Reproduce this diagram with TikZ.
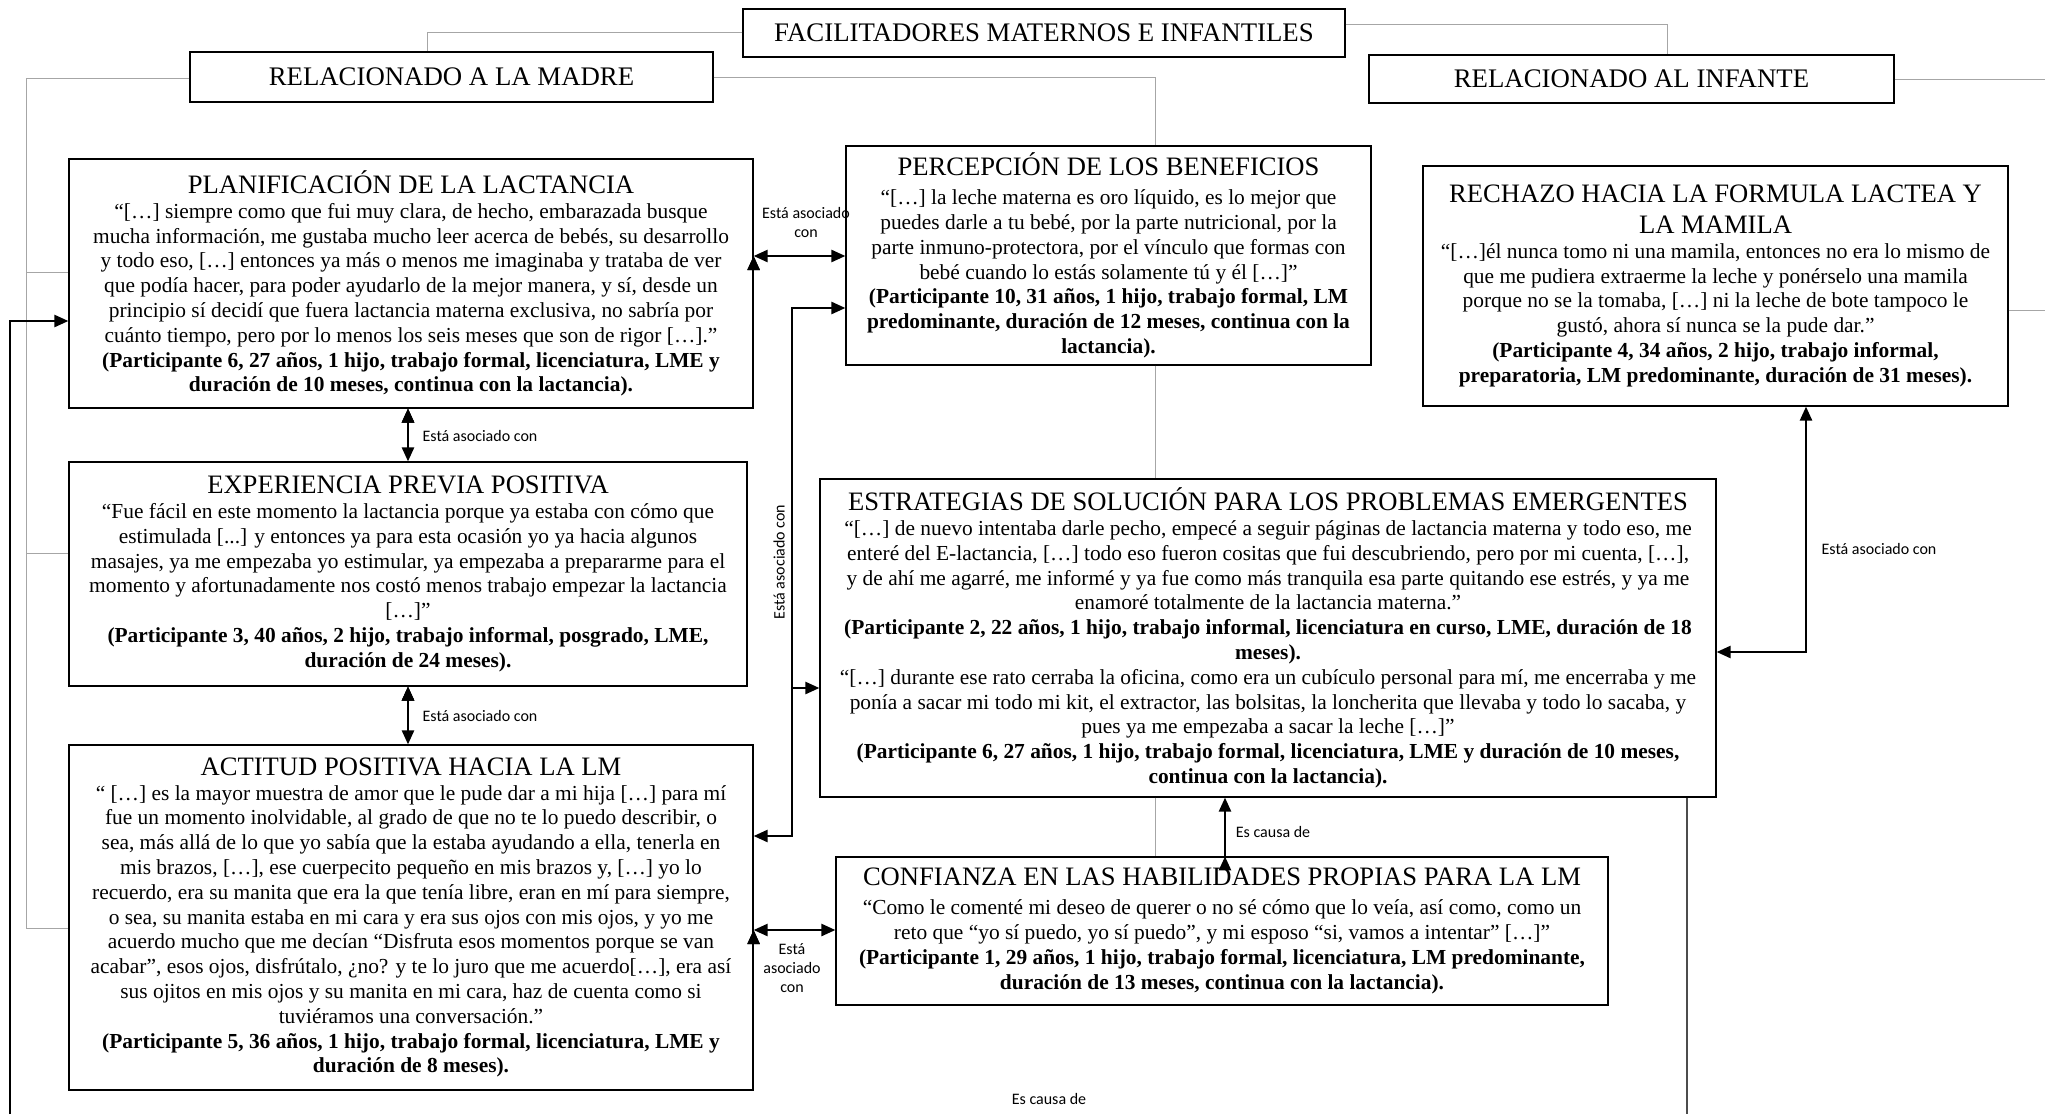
\documentclass[tikz,border=0pt]{standalone}
\usepackage{fontspec}
\setmainfont{Liberation Serif}
\newfontfamily\labelfont{Carlito}
\usetikzlibrary{arrows.meta}

\newcommand{\boxtitle}[1]{{\fontsize{13.3}{15.5}\selectfont #1}}
\newcommand{\who}[1]{\textbf{#1}}

\begin{document}
\begin{tikzpicture}[x=0.5pt,y=-0.5pt,
		box/.style={shape=rectangle, draw=black, fill=white, line width=0.6pt, align=center, inner sep=2pt, font=\fontsize{10.7}{12.4}\selectfont},
		head/.style={shape=rectangle, draw=black, fill=white, line width=0.6pt, align=center, font=\fontsize{13.4}{15}\selectfont},
		hier/.style={draw=black!35, line width=0.5pt},
		assoc/.style={draw=black, line width=1.2pt, {Triangle[length=7pt,width=6pt]}-{Triangle[length=7pt,width=6pt]}},
		arr/.style={draw=black, line width=1.2pt, -{Triangle[length=7pt,width=6pt]}},
		lbl/.style={font=\labelfont\fontsize{8}{9.5}\selectfont, align=center, inner sep=0pt}]
		\useasboundingbox (0,0) rectangle (2045,1114);
		
		\node[head, minimum width=301pt, minimum height=24pt] (top) at (1044,33) {FACILITADORES MATERNOS E INFANTILES};
		\node[head, minimum width=261.5pt, minimum height=25pt] (madre) at (451.5,77) {RELACIONADO A LA MADRE};
		\node[head, minimum width=262.5pt, minimum height=24pt] (infante) at (1631.5,79) {RELACIONADO AL INFANTE};
		
		\node[box, minimum width=342pt, minimum height=124.5pt] (plan) at (411,283.5) {\boxtitle{PLANIFICACIÓN DE LA LACTANCIA}\\
			“[…] siempre como que fui muy clara, de hecho, embarazada busque\\
			mucha información, me gustaba mucho leer acerca de bebés, su desarrollo\\
			y todo eso, […] entonces ya más o menos me imaginaba y trataba de ver\\
			que podía hacer, para poder ayudarlo de la mejor manera, y sí, desde un\\
			principio sí decidí que fuera lactancia materna exclusiva, no sabría por\\
			cuánto tiempo, pero por lo menos los seis meses que son de rigor […].”\\
			\who{(Participante 6, 27 años, 1 hijo, trabajo formal, licenciatura, LME y}\\
			\who{duración de 10 meses, continua con la lactancia).}};
		\node[box, minimum width=262.5pt, minimum height=109.5pt] (perc) at (1108.5,255.5) {\boxtitle{PERCEPCIÓN DE LOS BENEFICIOS}\\[2pt]
			“[…] la leche materna es oro líquido, es lo mejor que\\
			puedes darle a tu bebé, por la parte nutricional, por la\\
			parte inmuno-protectora, por el vínculo que formas con\\
			bebé cuando lo estás solamente tú y él […]”\\
			\who{(Participante 10, 31 años, 1 hijo, trabajo formal, LM}\\
			\who{predominante, duración de 12 meses, continua con la}\\
			\who{lactancia).}};
		\node[box, minimum width=292.5pt, minimum height=120pt] (rech) at (1715.5,286) {\boxtitle{RECHAZO HACIA LA FORMULA LACTEA Y}\\[3pt]
			\boxtitle{LA MAMILA}\\
			“[…]él nunca tomo ni una mamila, entonces no era lo mismo de\\
			que me pudiera extraerme la leche y ponérselo una mamila\\
			porque no se la tomaba, […] ni la leche de bote tampoco le\\
			gustó, ahora sí nunca se la pude dar.”\\
			\who{(Participante 4, 34 años, 2 hijo, trabajo informal,}\\
			\who{preparatoria, LM predominante, duración de 31 meses).}};
		\node[box, minimum width=339pt, minimum height=112pt] (exp) at (408,574) {\boxtitle{EXPERIENCIA PREVIA POSITIVA}\\
			“Fue fácil en este momento la lactancia porque ya estaba con cómo que\\
			estimulada [...] y entonces ya para esta ocasión yo ya hacia algunos\\
			masajes, ya me empezaba yo estimular, ya empezaba a prepararme para el\\
			momento y afortunadamente nos costó menos trabajo empezar la lactancia\\
			{[}…]”\\
			\who{(Participante 3, 40 años, 2 hijo, trabajo informal, posgrado, LME,}\\
			\who{duración de 24 meses).}};
		\node[box, minimum width=448pt, minimum height=159pt] (estr) at (1268,638) {\boxtitle{ESTRATEGIAS DE SOLUCIÓN PARA LOS PROBLEMAS EMERGENTES}\\
			“[…] de nuevo intentaba darle pecho, empecé a seguir páginas de lactancia materna y todo eso, me\\
			enteré del E-lactancia, […] todo eso fueron cositas que fui descubriendo, pero por mi cuenta, […],\\
			y de ahí me agarré, me informé y ya fue como más tranquila esa parte quitando ese estrés, y ya me\\
			enamoré totalmente de la lactancia materna.”\\
			\who{(Participante 2, 22 años, 1 hijo, trabajo informal, licenciatura en curso, LME, duración de 18}\\
			\who{meses).}\\
			“[…] durante ese rato cerraba la oficina, como era un cubículo personal para mí, me encerraba y me\\
			ponía a sacar mi todo mi kit, el extractor, las bolsitas, la loncherita que llevaba y todo lo sacaba, y\\
			pues ya me empezaba a sacar la leche […]”\\
			\who{(Participante 6, 27 años, 1 hijo, trabajo formal, licenciatura, LME y duración de 10 meses,}\\
			\who{continua con la lactancia).}};
		\node[box, minimum width=342pt, minimum height=172.5pt] (act) at (411,917.5) {\boxtitle{ACTITUD POSITIVA HACIA LA LM}\\
			“ […] es la mayor muestra de amor que le pude dar a mi hija […] para mí\\
			fue un momento inolvidable, al grado de que no te lo puedo describir, o\\
			sea, más allá de lo que yo sabía que la estaba ayudando a ella, tenerla en\\
			mis brazos, […], ese cuerpecito pequeño en mis brazos y, […] yo lo\\
			recuerdo, era su manita que era la que tenía libre, eran en mí para siempre,\\
			o sea, su manita estaba en mi cara y era sus ojos con mis ojos, y yo me\\
			acuerdo mucho que me decían “Disfruta esos momentos porque se van\\
			acabar”, esos ojos, disfrútalo, ¿no? y te lo juro que me acuerdo[…], era así\\
			sus ojitos en mis ojos y su manita en mi cara, haz de cuenta como si\\
			tuviéramos una conversación.”\\
			\who{(Participante 5, 36 años, 1 hijo, trabajo formal, licenciatura, LME y}\\
			\who{duración de 8 meses).}};
		\node[box, minimum width=386pt, minimum height=74pt] (conf) at (1222,931) {\boxtitle{CONFIANZA EN LAS HABILIDADES PROPIAS PARA LA LM}\\[2pt]
			“Como le comenté mi deseo de querer o no sé cómo que lo veía, así como, como un\\
			reto que “yo sí puedo, yo sí puedo”, y mi esposo “si, vamos a intentar” […]”\\
			\who{(Participante 1, 29 años, 1 hijo, trabajo formal, licenciatura, LM predominante,}\\
			\who{duración de 13 meses, continua con la lactancia).}};
		
		\coordinate (ml) at (26,78);
		\coordinate (mr) at (1155,77);
		\coordinate (rimA) at (2045,79);
		\coordinate (rimB) at (2045,310);
		\coordinate (brT) at (792,308);
		\coordinate (brM) at (792,688);
		\coordinate (brB) at (792,836);
		\coordinate (lowL) at (10,1114);
		\coordinate (lowR) at (1687,1114);
		
		\draw[hier] (top.west |- 0,32) -| (madre.north -| 427,0);
		\draw[hier] (top.east |- 0,24) -| (infante.north -| 1667,0);
		\draw[hier] (madre.west |- ml) -- (ml) |- (act.west |- 0,928);
		\draw[hier] (ml |- 0,272) -- (plan.west |- 0,272);
		\draw[hier] (ml |- 0,553) -- (exp.west |- 0,553);
		\draw[hier] (madre.east |- mr) -- (mr) -- (mr |- perc.north);
		\draw[hier] (mr |- perc.south) -- (mr |- estr.north);
		\draw[hier] (mr |- estr.south) -- (mr |- conf.north);
		\draw[hier] (infante.east) -- (rimA);
		\draw[hier] (rech.east |- rimB) -- (rimB);
		\draw[draw=black!70, line width=0.8pt] (estr.south -| lowR) -- (lowR);
		
		\path[assoc] (plan.east |- 0,256) edge (perc.west |- 0,256);
		\path[assoc] (plan.south -| 408,0) edge (exp.north -| 408,0);
		\path[assoc] (exp.south -| 408,0) edge (act.north -| 408,0);
		\path[assoc] (act.east |- 0,930) edge (conf.west |- 0,930);
		\path[arr] (conf.north -| 1225,0) edge (estr.south -| 1225,0);
		\draw[assoc] (act.east |- brB) -- (brB) -- (brT) -- (perc.west |- brT);
		\draw[arr] (brM) -- (estr.west |- brM);
		\draw[assoc] (estr.east |- 0,652) -| (rech.south -| 1806,0);
		\draw[arr] (lowL) |- (plan.west |- 0,321);
		
		\node[lbl] (l1) at (806,222) {Está asociado\\con};
		\node[lbl] (l2) at (480,436) {Está asociado con};
		\node[lbl] (l3) at (480,716) {Está asociado con};
		\node[lbl, rotate=90] (l4) at (779,562) {Está asociado con};
		\node[lbl] (l5) at (792,968) {Está\\asociado\\con};
		\node[lbl] (l6) at (1273,832) {Es causa de};
		\node[lbl] (l7) at (1879,549) {Está asociado con};
		\node[lbl] (l8) at (1049,1099) {Es causa de};
		
	\end{tikzpicture}
\end{document}
